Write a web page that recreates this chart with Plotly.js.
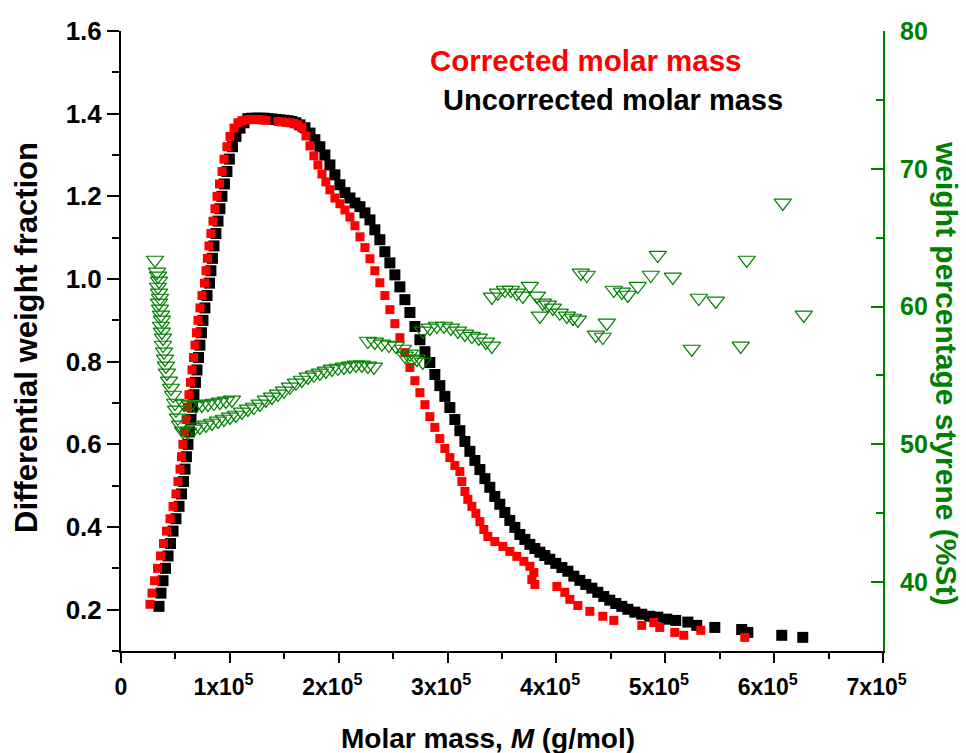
<!DOCTYPE html>
<html>
<head>
<meta charset="utf-8">
<script src="https://cdn.plot.ly/plotly-3.0.1.min.js"></script>
<style>html,body{margin:0;padding:0;background:#fff;}#chart{width:966px;height:753px;}</style>
</head>
<body>
<div id="chart"></div>
<script>
// Molar mass in units of 1e5 g/mol
const massUncorrected = [0.349,0.367,0.386,0.409,0.432,0.455,0.478,0.505,0.533,0.556,0.574,0.588,0.601,0.615,0.629,0.643,0.657,0.670,0.684,0.698,0.712,0.725,0.739,0.753,0.771,0.790,0.813,0.826,0.840,0.854,0.872,0.891,0.909,0.927,0.950,0.973,0.996,1.024,1.056,1.093,1.129,
1.166,1.203,1.240,1.276,1.313,1.350,1.387,1.423,1.460,1.497,1.534,1.570,1.607,
1.644,1.690,1.736,1.781,1.827,1.873,1.919,1.965,2.011,2.057,2.103,2.149,2.195,2.241,2.287,2.332,2.378,2.424,2.470,2.516,2.562,2.608,2.654,2.700,2.746,2.792,2.837,2.883,2.929,2.975,3.021,3.067,3.113,3.159,3.205,3.251,3.297,3.343,3.388,3.434,3.480,3.526,3.572,3.618,3.664,3.710,3.756,3.802,3.848,3.893,3.939,3.994,4.050,4.105,4.160,4.215,4.270,4.325,4.380,4.435,4.490,4.545,4.601,4.656,4.720,4.784,4.858,4.931,5.014,5.096,5.207,5.289,5.455,5.702,5.758,6.070,6.263];
const dwfUncorrected = [0.208,0.24,0.27,0.30,0.33,0.36,0.39,0.42,0.45,0.48,0.51,0.54,0.57,0.60,0.63,0.66,0.69,0.72,0.75,0.78,0.81,0.84,0.87,0.90,0.93,0.96,0.99,1.02,1.05,1.08,1.11,1.14,1.17,1.20,1.23,1.26,1.29,1.32,1.345,1.365,1.378,
1.388,1.389,1.389,1.389,1.389,1.388,1.387,1.386,1.385,1.384,1.383,1.381,1.378,
1.373,1.366,1.353,1.337,1.320,1.300,1.276,1.252,1.228,1.209,1.196,1.184,1.175,1.160,1.143,1.119,1.095,1.066,1.039,1.010,0.981,0.950,0.919,0.885,0.853,0.824,0.798,0.769,0.742,0.716,0.689,0.660,0.633,0.607,0.583,0.561,0.539,0.517,0.496,0.474,0.455,0.435,0.416,0.399,0.382,0.370,0.358,0.348,0.339,0.331,0.322,0.312,0.302,0.293,0.281,0.271,0.261,0.252,0.242,0.232,0.223,0.215,0.208,0.201,0.194,0.189,0.184,0.182,0.177,0.174,0.170,0.162,0.157,0.152,0.145,0.138,0.133];

const massCorrected = [0.266,0.285,0.308,0.335,0.363,0.390,0.418,0.450,0.478,0.505,0.523,0.542,0.556,0.569,0.583,0.597,0.611,0.624,0.638,0.652,0.666,0.680,0.693,0.707,0.725,0.744,0.767,0.781,0.794,0.808,0.826,0.845,0.863,0.882,0.905,0.928,0.946,0.973,1.001,1.038,1.074,
1.111,1.148,1.185,1.221,1.258,1.295,1.331,1.442,1.478,1.515,1.552,1.589,1.625,
1.662,1.699,1.736,1.772,1.809,1.846,1.882,1.919,1.965,2.011,2.057,2.103,2.149,2.195,2.241,2.287,2.332,2.378,2.424,2.470,2.516,2.562,2.608,2.654,2.700,2.746,2.792,2.837,2.883,2.929,2.975,3.021,3.067,3.113,3.131,3.159,3.186,3.223,3.260,3.297,3.333,3.370,3.434,3.508,3.572,3.636,3.701,3.756,3.792,3.774,3.802,4.004,4.077,4.123,4.197,4.307,4.426,4.527,4.784,4.894,4.949,5.087,5.170,5.326,5.730];
const dwfCorrected = [0.213,0.24,0.27,0.30,0.33,0.36,0.39,0.42,0.45,0.48,0.51,0.54,0.57,0.60,0.63,0.66,0.69,0.72,0.75,0.78,0.81,0.84,0.87,0.90,0.93,0.96,0.99,1.02,1.05,1.08,1.11,1.14,1.17,1.20,1.23,1.26,1.29,1.32,1.345,1.365,1.378,
1.383,1.385,1.386,1.386,1.386,1.385,1.384,1.381,1.380,1.379,1.378,1.376,1.373,
1.366,1.346,1.322,1.298,1.276,1.254,1.235,1.216,1.196,1.182,1.167,1.150,1.129,1.102,1.076,1.049,1.020,0.991,0.960,0.926,0.892,0.858,0.822,0.786,0.754,0.725,0.696,0.667,0.641,0.614,0.590,0.568,0.549,0.534,0.510,0.486,0.467,0.450,0.433,0.413,0.394,0.377,0.365,0.353,0.341,0.329,0.317,0.305,0.290,0.273,0.261,0.256,0.242,0.225,0.210,0.196,0.184,0.174,0.162,0.169,0.157,0.145,0.138,0.150,0.133];

const massStyrene = [0.312,0.331,0.340,0.349,0.340,0.349,0.358,0.349,0.358,0.367,0.376,0.367,0.376,0.386,0.386,0.395,0.404,0.413,0.422,0.441,0.459,0.478,0.496,0.505,0.523,0.542,0.569,
0.579,0.634,0.689,0.744,0.799,0.854,0.909,0.964,1.019,
0.615,0.670,0.725,0.781,0.836,0.891,0.946,1.001,1.056,1.111,1.166,1.221,1.276,1.331,1.387,1.442,1.497,1.552,
1.607,1.662,1.717,1.772,1.827,1.882,1.938,1.993,2.048,2.103,2.158,2.213,2.268,2.323,
2.268,2.332,2.397,2.461,2.525,2.590,2.654,2.718,2.773,2.608,2.672,
2.773,2.837,2.902,2.966,3.030,3.095,3.159,3.223,3.287,3.352,3.407,
3.407,3.462,3.526,3.581,3.636,3.691,3.756,3.820,3.875,3.921,3.967,4.031,4.096,4.151,4.197,3.848,
4.224,4.279,4.527,4.601,4.656,4.747,4.362,4.426,4.463,4.931,4.867,5.069,5.308,5.464,5.243,5.693,5.748,6.079,6.272];
const styrenePct = [63.38,62.51,62.22,61.86,61.42,60.99,60.62,60.26,59.83,59.39,59.03,58.59,58.16,57.72,57.21,56.71,56.20,55.69,55.18,54.60,54.09,53.58,53.00,52.50,51.92,51.41,50.97,
52.93,52.86,52.79,52.86,52.93,53.00,53.08,53.15,53.22,
50.90,51.12,51.26,51.41,51.55,51.70,51.84,51.99,52.13,52.35,52.57,52.71,52.93,53.22,53.44,53.66,53.88,54.17,
54.46,54.67,54.89,55.04,55.18,55.33,55.47,55.54,55.62,55.69,55.76,55.76,55.69,55.62,
57.50,57.43,57.29,57.21,57.14,56.92,56.56,56.20,55.98,56.42,56.13,
58.23,58.45,58.59,58.59,58.45,58.23,58.01,57.86,57.72,57.43,57.14,
60.70,60.99,61.20,61.20,60.99,60.77,61.49,60.77,60.26,60.12,59.90,59.54,59.32,59.17,59.03,59.32,
62.44,62.29,61.20,61.06,60.84,61.49,57.94,57.79,58.81,63.74,62.29,62.15,60.62,60.41,56.92,57.14,63.38,67.52,59.39];

const xTickVals = [0,1,2,3,4,5,6,7];
const xTickText = ['0','1x10<sup>5</sup>','2x10<sup>5</sup>','3x10<sup>5</sup>','4x10<sup>5</sup>','5x10<sup>5</sup>','6x10<sup>5</sup>','7x10<sup>5</sup>'];
const yTickVals = [0.2,0.4,0.6,0.8,1.0,1.2,1.4,1.6];
const yTickText = ['0.2','0.4','0.6','0.8','1.0','1.2','1.4','1.6'];
const y2TickVals = [40,50,60,70,80];
const y2TickText = ['40','50','60','70','80'];

const FONT = 'Arial, "Liberation Sans", sans-serif';
const GREEN = '#008000';
const bold = arr => arr.map(t => '<b>' + t + '</b>');
// trailing no-break spaces nudge the power-of-ten labels slightly left, as in the original
const xLabels = xTickText.map((t, i) => '<b>' + t + '</b>' + (i > 0 ? '\u00a0\u00a0' : ''));

const traces = [
  {x: massUncorrected, y: dwfUncorrected, type: 'scatter', mode: 'markers', name: 'Uncorrected molar mass',
   marker: {symbol: 'square', size: 11, color: '#000000'}, yaxis: 'y'},
  {x: massCorrected, y: dwfCorrected, type: 'scatter', mode: 'markers', name: 'Corrected molar mass',
   marker: {symbol: 'square', size: 9, color: '#ff0000'}, yaxis: 'y'},
  {x: massStyrene, y: styrenePct, type: 'scatter', mode: 'markers', name: 'weight percentage styrene',
   marker: {symbol: 'triangle-down-open', size: 15, color: GREEN, line: {width: 1.2, color: GREEN}}, yaxis: 'y2'}
];

const layout = {
  width: 966, height: 753,
  margin: {l: 121, r: 83, t: 31, b: 102, pad: 0},
  paper_bgcolor: '#fff', plot_bgcolor: '#fff',
  showlegend: false,
  font: {family: FONT, size: 24, color: '#000'},
  xaxis: {
    range: [0, 7], tickmode: 'array', tickvals: xTickVals, ticktext: xLabels,
    showgrid: false, zeroline: false, showline: true, linecolor: '#000', linewidth: 2,
    ticks: 'outside', ticklen: 10, tickwidth: 2, tickcolor: '#000',
    minor: {ticks: 'outside', dtick: 0.5, tick0: 0, ticklen: 6, tickwidth: 2, tickcolor: '#000'},
    tickfont: {family: FONT, size: 23, color: '#000'},
    ticklabelstandoff: 4
  },
  yaxis: {
    range: [0.1, 1.6], tickmode: 'array', tickvals: yTickVals, ticktext: bold(yTickText),
    showgrid: false, zeroline: false, showline: true, linecolor: '#000', linewidth: 2,
    ticks: 'outside', ticklen: 12, tickwidth: 2, tickcolor: '#000',
    minor: {ticks: 'outside', dtick: 0.1, tick0: 0.1, ticklen: 7, tickwidth: 2, tickcolor: '#000'},
    tickfont: {family: FONT, size: 26, color: '#000'}
  },
  yaxis2: {
    overlaying: 'y', side: 'right', anchor: 'x',
    range: [35, 80], tickmode: 'array', tickvals: y2TickVals, ticktext: bold(y2TickText),
    showgrid: false, zeroline: false, showline: true, linecolor: GREEN, linewidth: 2,
    ticks: 'inside', ticklen: 12, tickwidth: 2, tickcolor: GREEN,
    minor: {ticks: 'inside', dtick: 5, tick0: 35, ticklen: 7, tickwidth: 2, tickcolor: GREEN},
    tickfont: {family: FONT, size: 25, color: GREEN},
    ticklabelstandoff: 10
  },
  annotations: [
    {xref: 'paper', yref: 'paper', x: (488 - 121) / 762, y: (651 - 738) / 620, xanchor: 'center', yanchor: 'middle',
     showarrow: false, text: '<b>Molar mass, <i>M</i> (g/mol)</b>', font: {family: FONT, size: 28, color: '#000'}},
    {xref: 'paper', yref: 'paper', x: (26 - 121) / 762, y: (651 - 338) / 620, xanchor: 'center', yanchor: 'middle', textangle: -90,
     showarrow: false, text: '<b>Differential weight fraction</b>', font: {family: FONT, size: 31, color: '#000'}},
    {xref: 'paper', yref: 'paper', x: (947 - 121) / 762, y: (651 - 373) / 620, xanchor: 'center', yanchor: 'middle', textangle: 90,
     showarrow: false, text: '<b>weight percentage styrene (%St)</b>', font: {family: FONT, size: 30, color: GREEN}},
    {xref: 'paper', yref: 'paper', x: (428 - 121) / 762, y: (651 - 61) / 620, xanchor: 'left', yanchor: 'middle',
     showarrow: false, text: '<b>Corrected molar mass</b>', font: {family: FONT, size: 29.5, color: '#ff0000'}},
    {xref: 'paper', yref: 'paper', x: (441 - 121) / 762, y: (651 - 100) / 620, xanchor: 'left', yanchor: 'middle',
     showarrow: false, text: '<b>Uncorrected molar mass</b>', font: {family: FONT, size: 29, color: '#000'}}
  ]
};

Plotly.newPlot('chart', traces, layout, {displayModeBar: false, staticPlot: true});
</script>
</body>
</html>
